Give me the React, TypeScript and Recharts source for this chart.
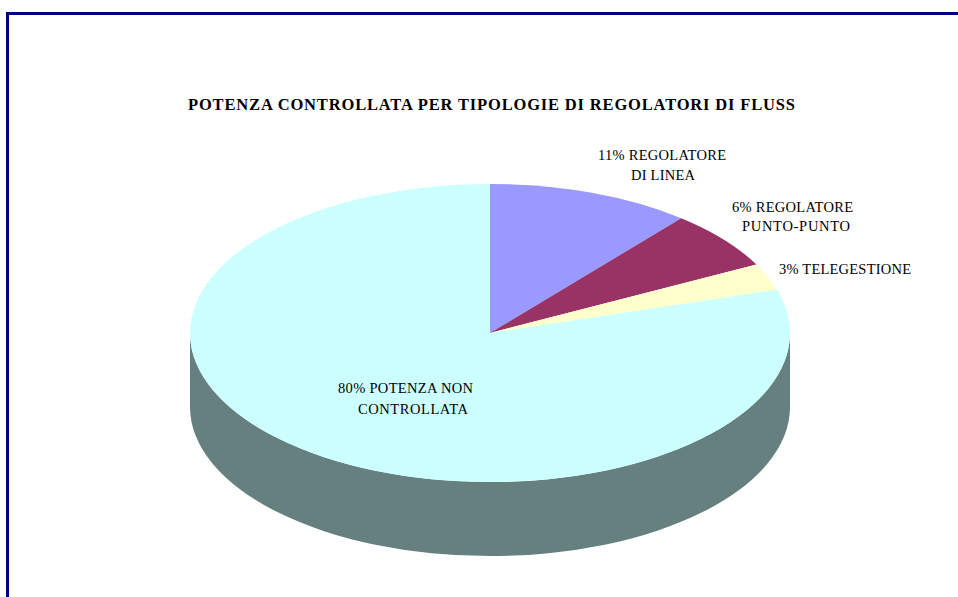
import { PieChart, Pie } from "recharts"

const CATEGORIES = ["REGOLATORE DI LINEA", "REGOLATORE PUNTO-PUNTO", "TELEGESTIONE", "POTENZA NON CONTROLLATA"]
const VALUES = [11, 6.4, 2.9, 79.7]
const COLORS = ["#9999FF", "#993366", "#FFFFCC", "#CCFFFF"]
const LABEL_LINES = [
  ["11% REGOLATORE", "DI LINEA"],
  ["6% REGOLATORE", "PUNTO-PUNTO"],
  ["3% TELEGESTIONE"],
  ["80% POTENZA NON", "CONTROLLATA"],
]
const TITLE = "POTENZA CONTROLLATA PER TIPOLOGIE DI REGOLATORI DI FLUSS"

// where each label line sits: x start, baseline y, width
const LABEL_LAYOUT = [
  [[598, 160, 128], [631, 180, 64]],
  [[732, 212, 121], [742, 231, 108]],
  [[779, 274, 132]],
  [[338, 393, 135], [358, 414, 110]],
]

const data = CATEGORIES.map((name, i) => ({ name, value: VALUES[i], fill: COLORS[i] }))

const RY_RATIO = 0.4967
const DEPTH = 74
const WALL = "#668080"

const pt = (cx: number, cy: number, r: number, deg: number) => {
  const a = (deg * Math.PI) / 180
  return [cx + r * Math.cos(a), cy - r * RY_RATIO * Math.sin(a)]
}

// pie sector squashed to an ellipse, plus the rim under it when it faces front
function TiltedSlice(props: any) {
  const { cx, cy, outerRadius: r, startAngle, endAngle, fill } = props
  const ry = r * RY_RATIO
  const [sx, sy] = pt(cx, cy, r, startAngle)
  const [ex, ey] = pt(cx, cy, r, endAngle)
  const large = Math.abs(startAngle - endAngle) > 180 ? 1 : 0
  const top = `M${cx},${cy} L${sx},${sy} A${r},${ry} 0 ${large} 1 ${ex},${ey} Z`

  // front half of the ellipse runs from 0 to -180 degrees
  const from = Math.min(startAngle, 0)
  const to = Math.max(endAngle, -180)
  let wall = null
  if (from > to) {
    const [ax, ay] = pt(cx, cy, r, from)
    const [bx, by] = pt(cx, cy, r, to)
    wall = (
      <path
        d={`M${ax},${ay} A${r},${ry} 0 0 1 ${bx},${by} L${bx},${by + DEPTH} A${r},${ry} 0 0 0 ${ax},${ay + DEPTH} Z`}
        fill={WALL}
      />
    )
  }
  return (
    <g>
      {wall}
      <path d={top} fill={fill} />
    </g>
  )
}

function SliceLabel({ index }: any) {
  return (
    <g>
      {LABEL_LINES[index].map((line, i) => {
        const [x, y, w] = LABEL_LAYOUT[index][i]
        return (
          <text
            key={line}
            x={x}
            y={y}
            textLength={w}
            lengthAdjust="spacing"
            fontFamily="Liberation Serif"
            fontSize={14.5}
            fill="#000"
          >
            {line}
          </text>
        )
      })}
    </g>
  )
}

export default function App() {
  return (
    <div
      style={{
        position: "absolute",
        left: 0,
        top: 0,
        width: 958,
        height: 597,
        overflow: "hidden",
        background: "#fff",
      }}
    >
      <div
        style={{
          position: "absolute",
          left: 6,
          top: 12,
          width: 960,
          height: 600,
          borderLeft: "3px solid #000080",
          borderTop: "3px solid #000080",
        }}
      />
      <div style={{ position: "absolute", left: 0, top: 0 }}>
        <PieChart width={958} height={597} margin={{ top: 0, right: 0, bottom: 0, left: 0 }}>
          <text
            x={188}
            y={110}
            textLength={607}
            lengthAdjust="spacing"
            fontFamily="Liberation Serif"
            fontWeight="bold"
            fontSize={16.5}
            fill="#000"
          >
            {TITLE}
          </text>
          <Pie
            data={data}
            dataKey="value"
            nameKey="name"
            cx={490}
            cy={333}
            outerRadius={300}
            startAngle={90}
            endAngle={-270}
            stroke="none"
            shape={TiltedSlice}
            label={SliceLabel}
            labelLine={false}
            isAnimationActive={false}
          />
        </PieChart>
      </div>
    </div>
  )
}
